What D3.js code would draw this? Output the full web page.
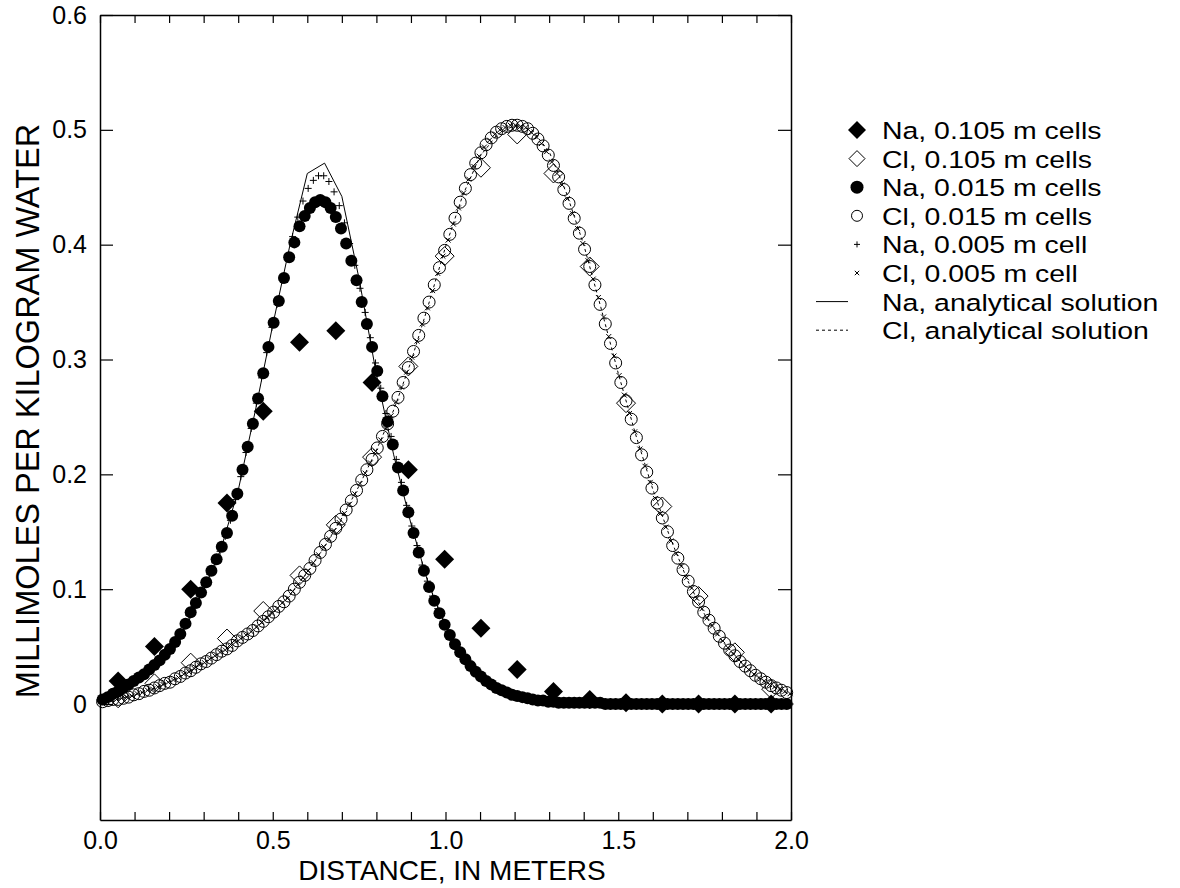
<!DOCTYPE html>
<html><head><meta charset="utf-8">
<script src="https://cdn.jsdelivr.net/npm/d3@7"></script>
<style>
body{margin:0;background:#fff}
svg{display:block}
text{font-family:"Liberation Sans",Arial,Helvetica,sans-serif;fill:#000}
</style>
</head><body>
<svg id="c" width="1180" height="888"></svg>
<script>
// ---------------- DATA ----------------
const xMinorTicks = [0,0.1,0.2,0.3,0.4,0.5,0.6,0.7,0.8,0.9,1.0,1.1,1.2,1.3,1.4,1.5,1.6,1.7,1.8,1.9,2.0];
const xTickLabels = {"0":"0.0","0.5":"0.5","1":"1.0","1.5":"1.5","2":"2.0"};
const yTicks = [0,0.1,0.2,0.3,0.4,0.5,0.6];
const yTickLabels = ["0","0.1","0.2","0.3","0.4","0.5","0.6"];

// 0.105 m cells (cell centres 0.0525 + k*0.105)
const coarseCell = 0.105;
const naCoarse = [0.020,0.050,0.100,0.175,0.255,0.315,0.325,0.280,0.204,0.126,0.066,0.030,0.011,0.004,0.001,0,0,0,0];
const clCoarse = [0.005,0.018,0.036,0.057,0.081,0.112,0.156,0.215,0.294,0.390,0.467,0.496,0.462,0.381,0.262,0.172,0.094,0.045,0.013];

// 0.015 m cells (cell centres 0.0075 + k*0.015)
const fineCell = 0.015;
const naFine = [0.004,0.006,0.009,0.011,0.014,0.017,0.020,0.023,0.026,0.030,
0.034,0.038,0.043,0.048,0.054,0.061,0.070,0.080,0.088,0.097,
0.106,0.116,0.126,0.137,0.149,0.164,0.183,0.204,0.224,0.244,
0.266,0.288,0.311,0.332,0.351,0.371,0.389,0.402,0.416,0.425,
0.432,0.437,0.439,0.437,0.432,0.424,0.414,0.401,0.386,0.369,
0.350,0.331,0.311,0.290,0.268,0.246,0.226,0.206,0.186,0.167,
0.149,0.132,0.116,0.102,0.090,0.079,0.069,0.060,0.052,0.045,
0.039,0.033,0.028,0.024,0.020,0.017,0.014,0.012,0.010,0.008,
0.007,0.006,0.005,0.004,0.003,0.003,0.002,0.002,0.001,0.001,
0.001,0.001,0.001,0.001,0.001,0.001,0.001,0,0,0,
0,0,0,0,0,0,0,0,0,0,
0,0,0,0,0,0,0,0,0,0,
0,0,0,0,0,0,0,0,0,0,
0,0,0];
const clFine = [0.002,0.003,0.004,0.004,0.005,0.006,0.008,0.009,0.011,0.012,
0.014,0.016,0.018,0.019,0.022,0.024,0.027,0.029,0.032,0.035,
0.037,0.040,0.043,0.046,0.048,0.051,0.055,0.058,0.061,0.064,
0.068,0.072,0.076,0.080,0.085,0.089,0.094,0.100,0.106,0.112,
0.118,0.125,0.132,0.139,0.146,0.153,0.161,0.169,0.177,0.186,
0.195,0.204,0.213,0.223,0.233,0.244,0.255,0.267,0.280,0.293,
0.307,0.321,0.336,0.350,0.365,0.380,0.395,0.409,0.423,0.437,
0.449,0.461,0.471,0.480,0.487,0.493,0.498,0.501,0.503,0.504,
0.504,0.503,0.501,0.497,0.492,0.486,0.478,0.469,0.459,0.448,
0.436,0.423,0.410,0.396,0.381,0.365,0.348,0.331,0.314,0.297,
0.280,0.264,0.248,0.232,0.217,0.202,0.188,0.175,0.162,0.150,
0.138,0.127,0.117,0.107,0.098,0.089,0.080,0.073,0.066,0.059,
0.053,0.047,0.042,0.037,0.033,0.029,0.025,0.022,0.019,0.016,
0.014,0.012,0.010];

// 0.005 m cell run, every third cell plotted (centres 0.0025 + k*0.015)
const finestStart = 0.0025, finestPlotStep = 0.015;
const naFinest = [0.003,0.005,0.008,0.010,0.013,0.016,0.019,0.022,0.025,0.029,
0.033,0.037,0.041,0.046,0.052,0.059,0.067,0.077,0.085,0.094,
0.103,0.113,0.123,0.133,0.146,0.160,0.178,0.198,0.219,0.240,
0.262,0.284,0.306,0.328,0.348,0.369,0.389,0.407,0.424,0.438,
0.449,0.456,0.460,0.460,0.455,0.446,0.434,0.419,0.401,0.382,
0.362,0.341,0.319,0.297,0.275,0.253,0.233,0.213,0.193,0.173,
0.155,0.138,0.121,0.107,0.094,0.083,0.072,0.063,0.055,0.047,
0.041,0.035,0.030,0.025,0.021,0.018,0.015,0.013,0.011,0.009,
0.007,0.006,0.005,0.004,0.004,0.003,0.002,0.002,0.002,0.001,
0.001,0.001,0.001,0.001,0.001,0.001,0.001,0,0,0,
0,0,0,0,0,0,0,0,0,0,
0,0,0,0,0,0,0,0,0,0,
0,0,0,0,0,0,0,0,0,0,
0,0,0,0];
const clFinest = [0.002,0.003,0.004,0.004,0.005,0.006,0.007,0.009,0.010,0.012,
0.013,0.015,0.017,0.019,0.021,0.023,0.026,0.028,0.031,0.034,
0.036,0.039,0.042,0.045,0.047,0.050,0.054,0.057,0.060,0.063,
0.067,0.071,0.075,0.079,0.083,0.088,0.092,0.098,0.104,0.110,
0.116,0.123,0.130,0.137,0.144,0.151,0.158,0.166,0.174,0.183,
0.192,0.201,0.210,0.220,0.230,0.240,0.251,0.263,0.276,0.289,
0.302,0.316,0.331,0.345,0.360,0.375,0.390,0.404,0.418,0.432,
0.445,0.457,0.468,0.477,0.485,0.491,0.496,0.500,0.502,0.504,
0.504,0.503,0.502,0.498,0.494,0.488,0.481,0.472,0.462,0.452,
0.440,0.427,0.414,0.401,0.386,0.370,0.354,0.337,0.320,0.303,
0.286,0.269,0.253,0.237,0.222,0.207,0.193,0.179,0.166,0.154,
0.142,0.131,0.120,0.110,0.101,0.092,0.083,0.075,0.068,0.061,
0.055,0.049,0.044,0.039,0.034,0.030,0.026,0.023,0.020,0.017,
0.015,0.013,0.011,0.009];

// analytical solutions, every 0.05 m from 0 to 2.0
const anaStep = 0.05;
const naAnalytical = [0.003,0.010,0.018,0.029,0.045,0.068,0.100,0.135,0.186,0.256,
0.330,0.400,0.462,0.471,0.442,0.370,0.287,0.217,0.157,0.105,
0.068,0.043,0.026,0.015,0.008,0.004,0.002,0.001,0.001,0,
0,0,0,0,0,0,0,0,0,0,0];
const clAnalytical = [0.002,0.004,0.008,0.013,0.019,0.027,0.036,0.045,0.055,0.066,
0.079,0.095,0.115,0.137,0.162,0.190,0.221,0.256,0.298,0.347,
0.398,0.443,0.477,0.496,0.504,0.500,0.481,0.445,0.400,0.345,
0.288,0.235,0.187,0.145,0.108,0.078,0.055,0.038,0.024,0.015,0.008];

const legendLabels = ["Na, 0.105 m cells","Cl, 0.105 m cells","Na, 0.015 m cells","Cl, 0.015 m cells",
"Na, 0.005 m cell","Cl, 0.005 m cell","Na, analytical solution","Cl, analytical solution"];

// ---------------- CHART ----------------
const svg = d3.select("#c");
const L=100, R=791, T=15, B=820;
const x = d3.scaleLinear().domain([0,2]).range([L,R]);
const y = d3.scaleLinear().domain([-0.101,0.6]).range([B,T]);

const pts = (arr, start, step) => arr.map((v,i)=>({x:start+i*step, v}));

const diamond = r => `M0,${-r}L${r},0L0,${r}L${-r},0Z`;
const plus = r => `M${-r},0H${r}M0,${-r}V${r}`;
const cross = r => `M${-r},${-r}L${r},${r}M${-r},${r}L${r},${-r}`;

const plot = svg.append("g");

function drawPath(data, d, fill, stroke, sw){
  plot.append("g").selectAll("path").data(data).join("path")
    .attr("transform",p=>`translate(${x(p.x)},${y(p.v)})`)
    .attr("d",d).attr("fill",fill).attr("stroke",stroke).attr("stroke-width",sw);
}
function drawCircles(data, r, fill, stroke, sw){
  plot.append("g").selectAll("circle").data(data).join("circle")
    .attr("cx",p=>x(p.x)).attr("cy",p=>y(p.v)).attr("r",r)
    .attr("fill",fill).attr("stroke",stroke).attr("stroke-width",sw);
}

drawPath(pts(naCoarse, coarseCell/2, coarseCell), diamond(9.5), "#000", "none", 0);
drawPath(pts(clCoarse, coarseCell/2, coarseCell), diamond(9.5), "none", "#000", 1);
drawCircles(pts(naFine, fineCell/2, fineCell), 6, "#000", "none", 0);
drawCircles(pts(clFine, fineCell/2, fineCell), 6, "none", "#000", 1);
drawPath(pts(naFinest, finestStart, finestPlotStep), plus(3.5), "none", "#000", 1);
drawPath(pts(clFinest, finestStart, finestPlotStep), cross(2.5), "none", "#000", 1);

const line = d3.line().x(p=>x(p.x)).y(p=>y(p.v));
plot.append("path").datum(pts(naAnalytical,0,anaStep)).attr("d",line)
  .attr("fill","none").attr("stroke","#000").attr("stroke-width",1);
plot.append("path").datum(pts(clAnalytical,0,anaStep)).attr("d",line)
  .attr("fill","none").attr("stroke","#000").attr("stroke-width",1).attr("stroke-dasharray","3,3");

// axes
const fmtX = d => xTickLabels[String(+d.toFixed(1))] || "";
const ax = svg.append("g");
ax.append("g").attr("transform",`translate(0,${B})`)
  .call(d3.axisBottom(x).tickValues(xMinorTicks).tickSizeInner(-8).tickSizeOuter(0).tickPadding(11).tickFormat(fmtX));
ax.append("g").attr("transform",`translate(0,${T})`)
  .call(d3.axisTop(x).tickValues(xMinorTicks).tickSizeInner(-8).tickSizeOuter(0).tickFormat(""));
ax.append("g").attr("transform",`translate(${L},0)`)
  .call(d3.axisLeft(y).tickValues(yTicks).tickSizeInner(-13).tickSizeOuter(0).tickPadding(13).tickFormat((d,i)=>yTickLabels[i]));
ax.append("g").attr("transform",`translate(${R},0)`)
  .call(d3.axisRight(y).tickValues(yTicks).tickSizeInner(-13).tickSizeOuter(0).tickFormat(""));
ax.selectAll(".domain").attr("stroke","#000").attr("stroke-width",1.5);
ax.selectAll(".tick line").attr("stroke","#000").attr("stroke-width",1.2);
ax.selectAll("text").attr("font-family",null).style("font-size","25px").attr("fill","#000");

// titles
svg.append("text").attr("x",452).attr("y",880).attr("text-anchor","middle")
  .style("font-size","28px").text("DISTANCE, IN METERS");
svg.append("text").attr("transform",`translate(39,411) rotate(-90)`).attr("text-anchor","middle")
  .style("font-size","32.5px").text("MILLIMOLES PER KILOGRAM WATER");

// legend
const lg = svg.append("g");
const ly0 = 130, ldy = 28.6, lmx = 857, ltx = 882;
legendLabels.forEach((t,i)=>{
  const yy = ly0 + i*ldy;
  lg.append("text").attr("transform",`translate(${ltx},${yy+9}) scale(1.16,1)`)
    .style("font-size","24.5px").text(t);
});
const sym = (i)=>`translate(${lmx},${ly0+i*ldy})`;
lg.append("path").attr("transform",sym(0)).attr("d",diamond(9)).attr("fill","#000");
lg.append("path").attr("transform",sym(1)).attr("d",diamond(8)).attr("fill","none").attr("stroke","#000");
lg.append("circle").attr("transform",sym(2)).attr("r",6.5).attr("fill","#000");
lg.append("circle").attr("transform",sym(3)).attr("r",5.5).attr("fill","none").attr("stroke","#000");
lg.append("path").attr("transform",sym(4)).attr("d",plus(3)).attr("fill","none").attr("stroke","#000");
lg.append("path").attr("transform",sym(5)).attr("d",cross(2.2)).attr("fill","none").attr("stroke","#000");
lg.append("line").attr("x1",816).attr("x2",848).attr("y1",ly0+6*ldy).attr("y2",ly0+6*ldy).attr("stroke","#000");
lg.append("line").attr("x1",816).attr("x2",848).attr("y1",ly0+7*ldy).attr("y2",ly0+7*ldy).attr("stroke","#000").attr("stroke-dasharray","3,3");
</script>
</body></html>
